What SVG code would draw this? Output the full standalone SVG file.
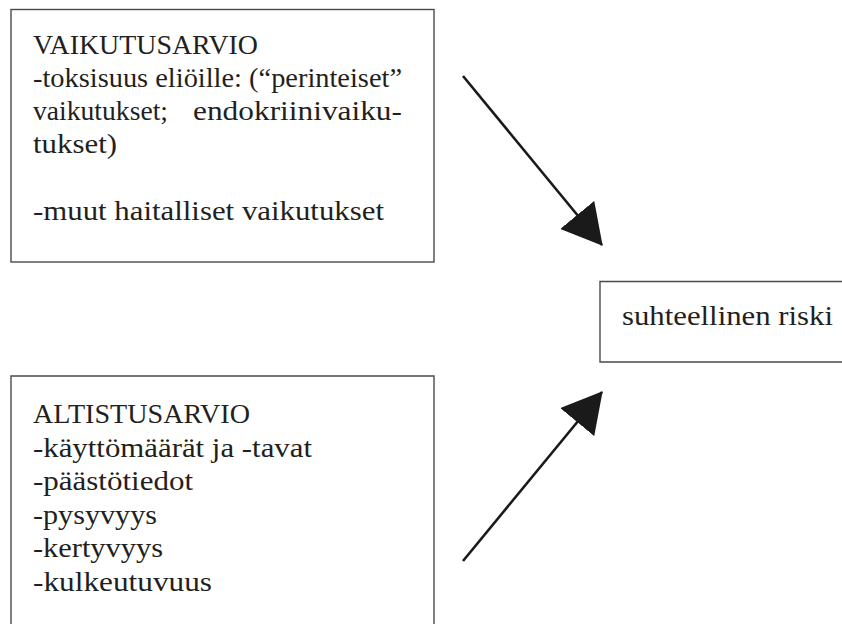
<svg xmlns="http://www.w3.org/2000/svg" width="842" height="624" viewBox="0 0 842 624">
<style>
.box{fill:#fff;stroke:#4a4a4a;stroke-width:1.4}
.t{font-family:"Liberation Serif","Times New Roman",serif;font-size:27px;fill:#231f20}
.c{stroke:#1a1a1a;stroke-width:2.6;fill:none}
</style>
<defs>
<marker id="ah" viewBox="0 0 40 44" refX="39" refY="22" markerWidth="40" markerHeight="44" markerUnits="userSpaceOnUse" orient="auto">
<path d="M0,0 L40,22 L0,44 z" fill="#1a1a1a"/>
</marker>
</defs>
<rect width="842" height="624" fill="#fff"/>
<g id="vaikutusarvio">
<rect class="box" x="11" y="9.5" width="423" height="252.5"/>
<text class="t" x="33" y="54" textLength="225" lengthAdjust="spacingAndGlyphs">VAIKUTUSARVIO</text>
<text class="t" x="33" y="87" textLength="369" lengthAdjust="spacingAndGlyphs">-toksisuus eliöille: (“perinteiset”</text>
<text class="t" x="33" y="120" textLength="135" lengthAdjust="spacingAndGlyphs">vaikutukset;</text>
<text class="t" x="193" y="120" textLength="209" lengthAdjust="spacingAndGlyphs">endokriinivaiku-</text>
<text class="t" x="33" y="153" textLength="84" lengthAdjust="spacingAndGlyphs">tukset)</text>
<text class="t" x="33" y="220" textLength="351" lengthAdjust="spacingAndGlyphs">-muut haitalliset vaikutukset</text>
</g>
<g id="altistusarvio">
<path class="box" d="M11,630 L11,376 L434,376 L434,630"/>
<text class="t" x="33" y="423" textLength="217" lengthAdjust="spacingAndGlyphs">ALTISTUSARVIO</text>
<text class="t" x="33" y="456.5" textLength="279" lengthAdjust="spacingAndGlyphs">-käyttömäärät ja -tavat</text>
<text class="t" x="33" y="490" textLength="160" lengthAdjust="spacingAndGlyphs">-päästötiedot</text>
<text class="t" x="33" y="523.5" textLength="124" lengthAdjust="spacingAndGlyphs">-pysyvyys</text>
<text class="t" x="33" y="557" textLength="130" lengthAdjust="spacingAndGlyphs">-kertyvyys</text>
<text class="t" x="33" y="590.5" textLength="179" lengthAdjust="spacingAndGlyphs">-kulkeutuvuus</text>
</g>
<g id="riski">
<path class="box" d="M850,281.5 L600,281.5 L600,362 L850,362"/>
<text class="t" x="622" y="325" textLength="211" lengthAdjust="spacingAndGlyphs">suhteellinen riski</text>
</g>
<g id="connectors">
<line class="c" x1="463" y1="76" x2="602" y2="245" marker-end="url(#ah)"/>
<line class="c" x1="463" y1="561" x2="602" y2="392" marker-end="url(#ah)"/>
</g>
</svg>
